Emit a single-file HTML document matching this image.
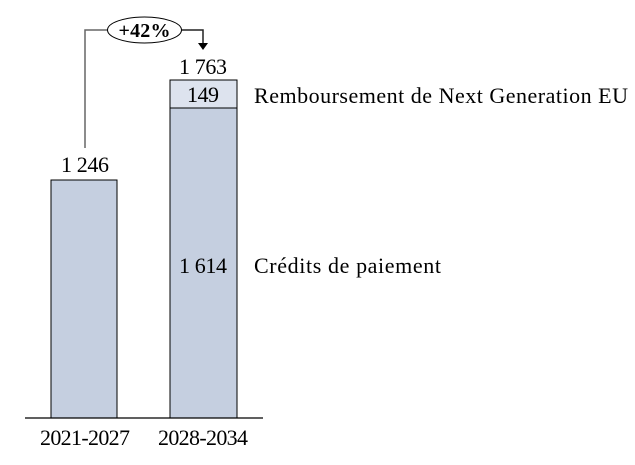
<!DOCTYPE html>
<html><head><meta charset="utf-8"><style>body{margin:0;background:#fff}</style></head><body>
<svg width="635" height="460" xmlns="http://www.w3.org/2000/svg" font-family="Liberation Serif, serif" font-size="22" fill="#000">
<rect x="51" y="180" width="66" height="238" fill="#c5cfe0" stroke="#000" stroke-width="1"/>
<rect x="170" y="108" width="67" height="310" fill="#c5cfe0" stroke="#000" stroke-width="1"/>
<rect x="170" y="80" width="67" height="28" fill="#dde3ee" stroke="#000" stroke-width="1"/>
<line x1="25" y1="418" x2="263" y2="418" stroke="#000" stroke-width="1.3"/>
<polyline points="85,148 85,30 108,30" fill="none" stroke="#666" stroke-width="1.5"/>
<polyline points="181,30 203,30 203,44" fill="none" stroke="#222" stroke-width="1.5"/>
<polygon points="198,43 208,43 203,50" fill="#000"/>
<ellipse cx="144.5" cy="30" rx="37" ry="13" fill="#fff" stroke="#000" stroke-width="1"/>
<text x="144.5" y="37" text-anchor="middle" font-weight="bold" font-size="20" textLength="52">+42%</text>
<text x="85" y="172" text-anchor="middle" textLength="48">1 246</text>
<text x="203" y="74" text-anchor="middle" textLength="48">1 763</text>
<text x="203" y="102" text-anchor="middle" textLength="32">149</text>
<text x="203" y="273" text-anchor="middle" textLength="48">1 614</text>
<text x="254" y="103" textLength="374">Remboursement de Next Generation EU</text>
<text x="254" y="273" textLength="187">Crédits de paiement</text>
<text x="85" y="445" text-anchor="middle" textLength="90">2021-2027</text>
<text x="203" y="445" text-anchor="middle" textLength="90">2028-2034</text>
</svg>
</body></html>
